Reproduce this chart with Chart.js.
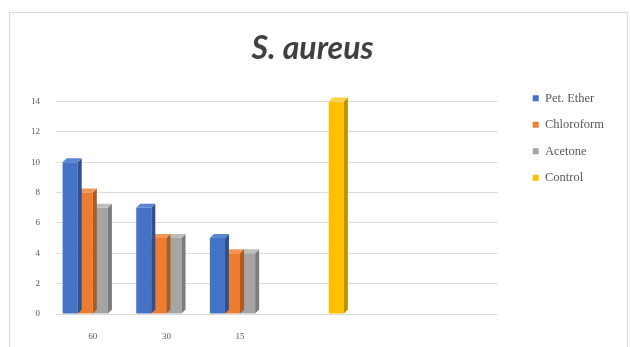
<!DOCTYPE html>
<html>
<head>
<meta charset="utf-8">
<script src="https://cdn.jsdelivr.net/npm/chart.js@4/dist/chart.umd.min.js"></script>
<style>
  html, body { margin: 0; padding: 0; background: #ffffff; }
  #wrap { position: relative; width: 630px; height: 347px; overflow: hidden; }
  #card { position: absolute; left: 9px; top: 12px; width: 619px; height: 360px;
          border: 1px solid #d9d9d9; box-sizing: border-box; }
  #chart { position: absolute; left: 0; top: 0; }
</style>
</head>
<body>
<div id="wrap">
  <div id="card"></div>
  <canvas id="chart" width="630" height="347"></canvas>
</div>
<script>
// Zone of inhibition by extract concentration, with the control in its own slot
const categories = ['60', '30', '15', '', '', ''];
const petEther   = [10, 7, 5, null, null, null];
const chloroform = [8, 5, 4, null, null, null];
const acetone    = [7, 5, 4, null, null, null];
const control    = [null, null, null, 14, null, null];
const yTicks     = [0, 2, 4, 6, 8, 10, 12, 14];

const seriesNames = ['Pet. Ether', 'Chloroform', 'Acetone', 'Control'];
const fronts = ['#4472C4', '#ED7D31', '#A5A5A5', '#FFC000'];
const sides  = ['#2F528F', '#AE5A21', '#7C7C7C', '#BF9000'];
const tops   = ['#5B86D6', '#F29456', '#BDBDBD', '#FFD040'];

// Adds a shaded side and top face to each bar so the columns read as blocks
const blockFaces = {
  id: 'blockFaces',
  afterDatasetDraw(chart, args) {
    const ctx = chart.ctx;
    const i = args.index;
    const d = 4;
    args.meta.data.forEach((bar, j) => {
      const v = chart.data.datasets[i].data[j];
      if (v === null || v === undefined) return;
      const p = bar.getProps(['x', 'y', 'base', 'width'], true);
      const l = p.x - p.width / 2, r = p.x + p.width / 2;
      ctx.save();
      ctx.fillStyle = sides[i];
      ctx.beginPath();
      ctx.moveTo(r, p.y);
      ctx.lineTo(r + d, p.y - d);
      ctx.lineTo(r + d, p.base - d);
      ctx.lineTo(r, p.base);
      ctx.closePath();
      ctx.fill();
      ctx.fillStyle = tops[i];
      ctx.beginPath();
      ctx.moveTo(l, p.y);
      ctx.lineTo(l + d, p.y - d);
      ctx.lineTo(r + d, p.y - d);
      ctx.lineTo(r, p.y);
      ctx.closePath();
      ctx.fill();
      ctx.restore();
    });
  }
};

const seriesData = [petEther, chloroform, acetone, control];

new Chart(document.getElementById('chart'), {
  type: 'bar',
  data: {
    labels: categories,
    datasets: seriesData.map((vals, i) => ({
      label: seriesNames[i],
      data: vals,
      backgroundColor: fronts[i],
      borderWidth: 0,
      categoryPercentage: 0.82,
      barPercentage: 1.0
    }))
  },
  plugins: [blockFaces],
  options: {
    responsive: false,
    animation: false,
    layout: { padding: { left: 11, right: 16, top: 0, bottom: 5 } },
    plugins: {
      title: {
        display: true,
        text: 'S. aureus',
        color: '#404040',
        font: { family: 'Lato', size: 32, style: 'italic', weight: 'bold' },
        padding: { top: 29, bottom: 34 }
      },
      legend: {
        position: 'right',
        align: 'start',
        // empty title acts as a spacer so the key sits beside the upper plot
        title: { display: true, text: '', font: { size: 12 }, padding: { top: 63.6, bottom: 0 } },
        labels: {
          boxWidth: 6,
          boxHeight: 6,
          padding: 14,
          color: '#595959',
          font: { family: 'Liberation Serif', size: 12.5 }
        }
      },
      tooltip: { enabled: false }
    },
    scales: {
      x: {
        grid: { display: false, drawTicks: false },
        border: { display: false },
        afterFit(s) { s.height = 28; },
        ticks: {
          color: '#595959',
          padding: 17,
          font: { family: 'Liberation Serif', size: 9 }
        }
      },
      y: {
        min: 0,
        max: 14,
        afterBuildTicks(s) { s.ticks = yTicks.map(v => ({ value: v })); },
        afterFit(s) { s.width = 45; },
        grid: { color: '#dcdcdc', drawTicks: false },
        border: { display: false },
        ticks: {
          color: '#595959',
          padding: 16,
          font: { family: 'Liberation Serif', size: 9 }
        }
      },
      gap: {
        position: 'right',
        display: true,
        grid: { display: false },
        border: { display: false },
        ticks: { display: false },
        afterFit(s) { s.width = 21; }
      }
    }
  }
});
</script>
</body>
</html>
